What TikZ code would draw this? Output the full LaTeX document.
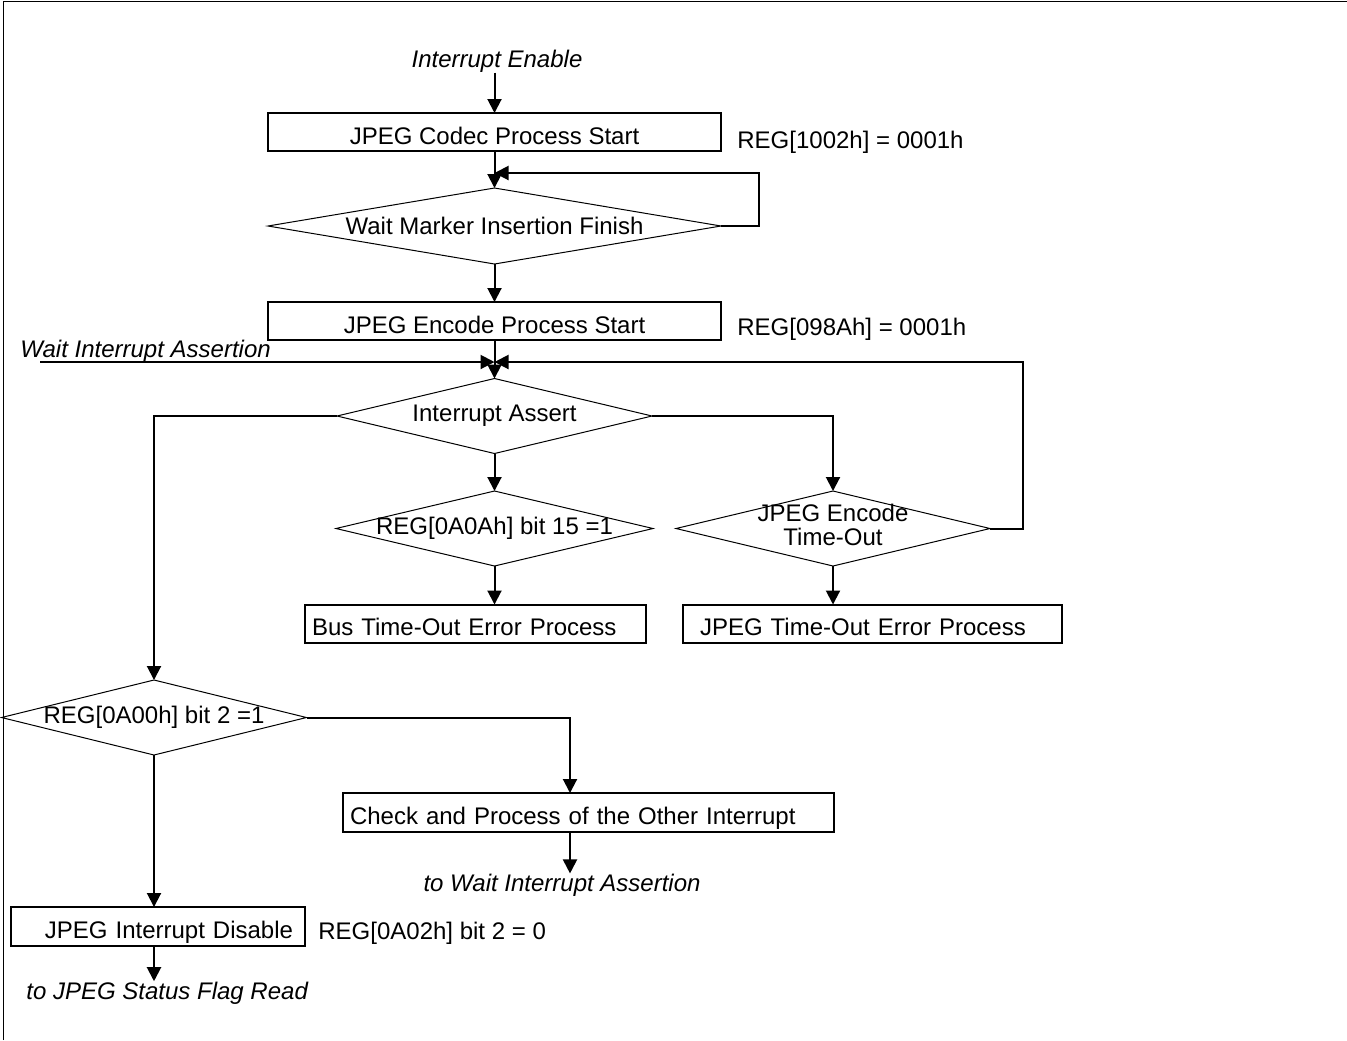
\documentclass[tikz,border=0pt]{standalone}
\usepackage{fontspec}
\setmainfont{Liberation Sans}
\usetikzlibrary{shapes.geometric,arrows.meta}
\newcommand{\dtext}[1]{\makebox[0pt]{#1}}

\begin{document}
\begin{tikzpicture}[
    x=0.5pt, y=-0.5pt,
    font=\fontsize{12pt}{14pt}\selectfont,
    box/.style={draw, line width=1pt, minimum height=19pt, inner sep=0pt, outer sep=0pt, text height=12pt, text depth=0pt},
    dia/.style={draw, diamond, aspect=4, line width=0.5pt, inner sep=0pt, outer sep=0pt},
    arr/.style={line width=1pt, -{Triangle[length=7pt, width=7pt]}},
    lbl/.style={anchor=base west, inner sep=0pt},
    note/.style={font=\fontsize{12pt}{14pt}\selectfont\itshape, inner sep=0pt}
]
    \useasboundingbox (0,0) rectangle (1347,1040);
    % frame
    \draw[line width=0.5pt] (3,1040) -- (3,1) -- (1347,1);

    % start of the encode
    \node[note] (ienable) at (497,61) {Interrupt Enable};
    \node[box, minimum width=226.5pt] (codec) at (494.5,132) {JPEG Codec Process Start};
    \node[lbl] (reg1002) at (737,148) {REG[1002h] = 0001h};
    \node[dia, minimum width=226.5pt, minimum height=38pt] (wm) at (494.5,226) {\dtext{Wait Marker Insertion Finish}};
    \coordinate (wmin) at (494.5,173);
    \node[box, minimum width=226.5pt] (encode) at (494.5,321) {JPEG Encode Process Start};
    \node[lbl] (reg098a) at (737,335) {REG[098Ah] = 0001h};

    % wait interrupt
    \node[note, anchor=base west] (wiatext) at (20,357) {Wait Interrupt Assertion};
    \coordinate (wiastart) at (40,362);
    \coordinate (wia) at (494.5,362);
    \node[dia, minimum width=157.5pt, minimum height=37.5pt] (ia) at (494.5,416) {\dtext{Interrupt Assert}};

    % error checks
    \node[dia, minimum width=158.5pt, minimum height=37.5pt] (bit15) at (494.5,528.5) {\dtext{REG[0A0Ah] bit 15 =1}};
    \node[dia, minimum width=157pt, minimum height=37.5pt] (jto) at (833,528.5)
        {\dtext{\fontsize{12pt}{11pt}\selectfont\begin{tabular}{@{}c@{}}JPEG Encode\\Time-Out\end{tabular}}};
    \node[box, minimum width=170.5pt, text width=163.5pt, inner xsep=3.5pt, align=left] (bus) at (475.5,623.5) {Bus Time-Out Error Process};
    \node[box, minimum width=189.5pt, text width=172.5pt, inner xsep=8.5pt, align=left] (jtobox) at (872.5,623.5) {JPEG Time-Out Error Process};

    % interrupt source
    \node[dia, minimum width=152.5pt, minimum height=37.5pt] (b2) at (154,717.5) {\dtext{REG[0A00h] bit 2 =1}};
    \node[box, minimum width=245.5pt, minimum height=19.5pt, text width=238.5pt, inner xsep=3.5pt, align=left] (check) at (588.5,812.5) {Check and Process of the Other Interrupt};
    \coordinate (chktop) at (570,793);
    \node[note] (towait) at (562,885) {to Wait Interrupt Assertion};
    \node[box, minimum width=147pt, minimum height=19.5pt, text width=135pt, inner xsep=6pt, align=right] (dis) at (158,926.5) {JPEG Interrupt Disable};
    \node[lbl] (reg0a02) at (318,939) {REG[0A02h] bit 2 = 0};
    \node[note, anchor=base west] (tojpeg) at (26,999) {to JPEG Status Flag Read};

    % connectors
    \draw[arr] (ienable.south -| codec.north) -- (codec.north);
    \draw[arr] (codec.south) -- (wm.north);
    \draw[arr] (wm.east) -- ++(38,0) |- (wmin);
    \draw[arr] (wm.south) -- (encode.north);
    \draw[arr] (encode.south) -- (ia.north);
    \draw[arr] (wiastart) -- (wia);
    \draw[arr] (jto.east) -- ++(33,0) |- (wia);
    \draw[arr] (ia.south) -- (bit15.north);
    \draw[arr] (ia.east) -| (jto.north);
    \draw[arr] (ia.west) -| (b2.north);
    \draw[arr] (bit15.south) -- (bit15.south |- bus.north);
    \draw[arr] (jto.south) -- (jto.south |- jtobox.north);
    \draw[arr] (b2.east) -| (chktop);
    \draw[arr] (chktop |- check.south) -- (chktop |- towait.north);
    \draw[arr] (b2.south) -- (b2.south |- dis.north);
    \draw[arr] (b2.south |- dis.south) -- (b2.south |- tojpeg.north);
\end{tikzpicture}
\end{document}
